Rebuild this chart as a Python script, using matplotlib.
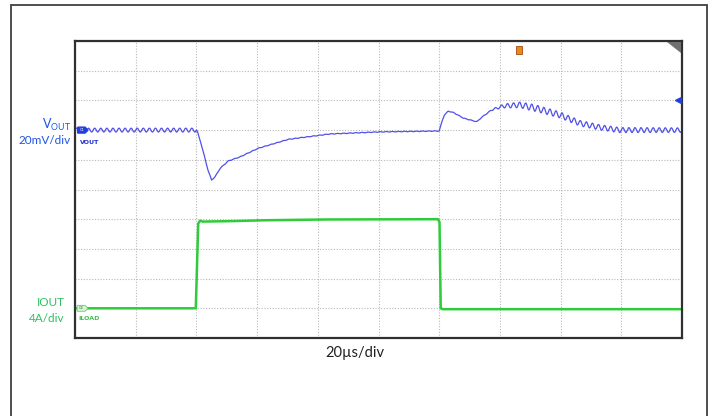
import matplotlib
matplotlib.use("Agg")
import matplotlib.pyplot as plt
import numpy as np
from matplotlib.patches import Rectangle, Polygon

# time in microseconds (20 us/div, 10 div), amplitude in divisions (0 = bottom)
vout_t = [0, 40, 41.2, 42.8, 43.8, 45.0, 46.1, 47.8, 50.5, 54.4, 60.4, 70.3, 84, 100.5,
          120, 120.8, 121.6, 123.0, 124.7, 128.0, 132.4, 134.0, 137.3, 141.1, 146.6,
          152.1, 159.8, 166.4, 173.0, 179.6, 200]
vout_v = [7.0, 7.0, 6.67, 6.06, 5.66, 5.32, 5.42, 5.71, 5.96, 6.10, 6.39, 6.69, 6.87, 6.94,
          6.97, 7.25, 7.5, 7.64, 7.59, 7.40, 7.28, 7.43, 7.68, 7.81, 7.85,
          7.73, 7.51, 7.23, 7.09, 7.00, 7.0]

# switching ripple riding on VOUT
ripple_t = [0, 40, 41, 120, 136, 142, 150, 170, 200]
ripple_a = [0.065, 0.065, 0.01, 0.01, 0.01, 0.07, 0.11, 0.09, 0.075]
ripple_period = 2.0

iout_t = [0, 39.8, 40.6, 41.2, 42, 50, 60, 80, 119.6, 120.1, 120.5, 121.2, 200]
iout_v = [1.0, 1.0, 3.85, 3.95, 3.92, 3.93, 3.96, 3.99, 4.0, 3.9, 1.0, 0.97, 0.97]

t = np.linspace(0, 200, 4001)
vout = np.interp(t, vout_t, vout_v) + np.interp(t, ripple_t, ripple_a) * np.sin(2 * np.pi * t / ripple_period)
iout = np.interp(t, iout_t, iout_v)

blue = "#5050ea"
green = "#2ecc3a"

fig = plt.figure(figsize=(7.12, 4.16), dpi=100)
fig.patches.append(Rectangle((11 / 712, -0.1), 696 / 712, 1.0 - 5 / 416 + 0.1,
                             transform=fig.transFigure, fill=False,
                             edgecolor="#404040", linewidth=1.3))

ax = fig.add_axes([75 / 712, (416 - 338) / 416, 607 / 712, 297 / 416])
ax.set_xlim(0, 200)
ax.set_ylim(0, 10)
ax.set_xticks(np.arange(0, 201, 20))
ax.set_yticks(np.arange(0, 11, 1))
ax.tick_params(length=0, labelbottom=False, labelleft=False)
ax.grid(True, linestyle=(0, (1, 1.5)), color="#b8b8b8", linewidth=0.8)
for s in ax.spines.values():
    s.set_linewidth(1.6)
    s.set_color("#303030")

ax.plot(t, iout, color=green, linewidth=1.8)
ax.plot(t, vout, color=blue, linewidth=0.9)

# channel markers
ax.add_patch(Polygon([[0.9, 6.9], [3.3, 6.9], [4.3, 7.0], [3.3, 7.1], [0.9, 7.1]],
                     closed=True, facecolor="#1f3fe0", edgecolor="#1f3fe0", zorder=5))
ax.text(2.2, 7.0, "C1", fontsize=2.5, color="white", ha="center", va="center", zorder=6)
ax.text(1.6, 6.57, "VOUT", fontsize=4.5, color="#1f2fd0", fontweight="bold", va="center")
ax.add_patch(Polygon([[0.7, 0.9], [3.3, 0.9], [4.3, 1.0], [3.3, 1.1], [0.7, 1.1]],
                     closed=True, facecolor="#d8f5d8", edgecolor="#5ed05e", linewidth=0.6, zorder=5))
ax.text(2.0, 1.0, "C4", fontsize=2.5, color="#307030", ha="center", va="center", zorder=6)
ax.text(1.2, 0.67, "ILOAD", fontsize=4.5, color="#3cc050", fontweight="bold", va="center")

# trigger marker and reference arrows
ax.add_patch(Rectangle((145.4, 9.55), 1.8, 0.28, facecolor="#e88a20", edgecolor="#a05010",
                       linewidth=0.6, clip_on=False, zorder=6))
ax.plot([198.6], [8.0], marker="<", markersize=4.5, color="#2040e0", clip_on=False, zorder=6)
ax.plot([198.6, 199.8], [8.0, 8.0], color="#2040e0", linewidth=1.2, clip_on=False, zorder=6)
ax.add_patch(Polygon([[195.2, 9.97], [199.8, 9.97], [199.8, 9.6]], closed=True,
                     facecolor="#707070", edgecolor="none", zorder=6))

font = "Lato"
fig.text(71 / 712, 1 - 125 / 416, r"V$_{\mathregular{OUT}}$", color="#1f55e6", fontsize=9,
         ha="right", va="center", family=font)
fig.text(71 / 712, 1 - 140 / 416, "20mV/div", color="#1f55e6", fontsize=8.5,
         ha="right", va="center", family=font)
fig.text(65 / 712, 1 - 302 / 416, "IOUT", color="#2ec060", fontsize=8.5,
         ha="right", va="center", family=font)
fig.text(65 / 712, 1 - 319 / 416, "4A/div", color="#2ec060", fontsize=8.5,
         ha="right", va="center", family=font)
fig.text(355 / 712, 1 - 353 / 416, "20µs/div", color="#202020", fontsize=10.5,
         ha="center", va="center", family=font)

fig.savefig("out.png", dpi=100)
